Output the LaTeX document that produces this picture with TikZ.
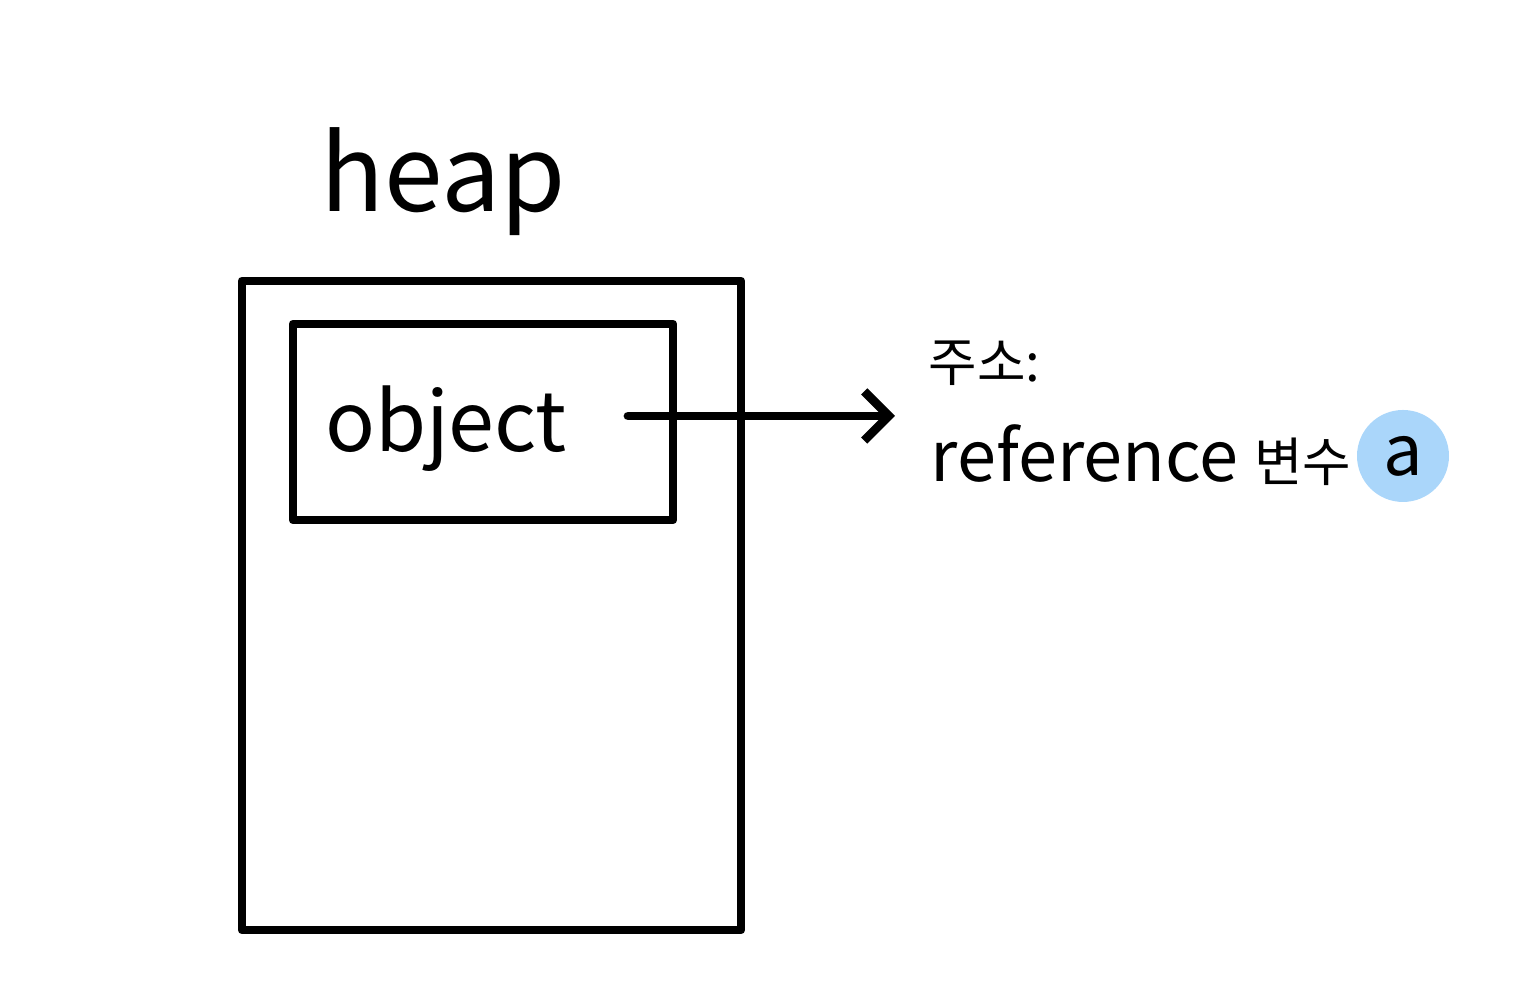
\documentclass[tikz,border=0pt]{standalone}
\usepackage{fontspec}
\setmainfont{Noto Sans CJK KR}
\usetikzlibrary{arrows.meta,positioning}
\definecolor{hilite}{RGB}{170,214,250}

\tikzset{
	box/.style={draw, line width=2.5pt, line join=round, inner sep=0pt},
	label/.style={inner sep=0pt, anchor=base west}
}

\begin{document}
\begin{tikzpicture}
	\useasboundingbox (0,0) rectangle (15.17,10);
	
	\node[box, minimum width=4.99cm, minimum height=6.49cm] (heap) at (4.915,3.945) {};
	
	\node[box, minimum width=3.80cm, minimum height=1.96cm] (obj) at (4.83,5.78) {};
	
	\node[inner sep=0pt, font=\fontsize{30}{33}\selectfont, anchor=base] (heaptext) at (4.43,7.88) {heap};
	
	\node[inner sep=0pt, font=\fontsize{23.5}{26}\selectfont, anchor=base] (objtext) at (4.46,5.48) {object};
	
	\coordinate (ptr) at (6.28,5.84);
	\coordinate (tip) at (8.95,5.84);
	
	\draw[line width=2.5pt, line cap=round, -{Straight Barb[length=7pt, width=14pt, line width=2.5pt]}] (ptr) -- (tip);
	
	\node[label, font=\fontsize{15}{17}\selectfont] (addr) at (9.28,6.18) {주소:};
	
	\node[label, font=\fontsize{20}{22}\selectfont] (ref) at (9.30,5.18) {reference {\fontsize{15}{17}\selectfont 변수}};
	
	\node[circle, fill=hilite, inner sep=0pt, minimum size=0.92cm, font=\fontsize{20}{22}\selectfont] (var) at (14.03,5.44) {a};
	
\end{tikzpicture}
\end{document}
